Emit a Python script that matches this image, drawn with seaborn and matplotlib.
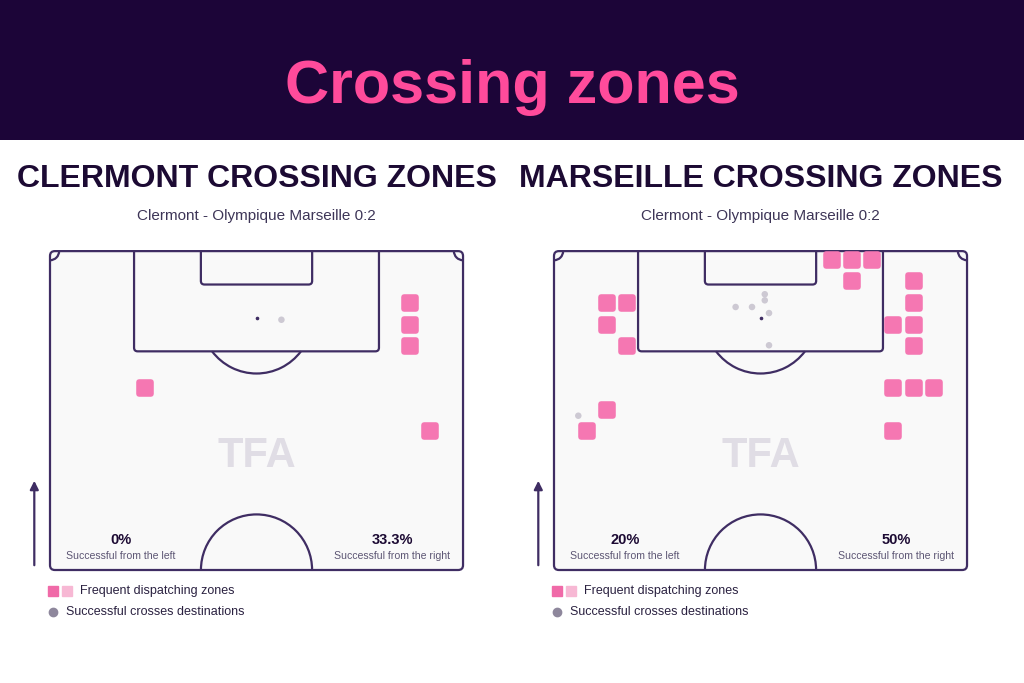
import matplotlib
matplotlib.use("Agg")
import matplotlib.pyplot as plt
import seaborn as sns
import pandas as pd
from matplotlib.patches import FancyBboxPatch, Arc, Rectangle, FancyArrowPatch
from matplotlib.lines import Line2D

# crossing origin zones (pitch metres, x across 0-68, y up from halfway 0-52.5)
clermont_zone_x = [59.2, 59.2, 59.2, 15.6, 62.6]
clermont_zone_y = [44.0, 40.4, 36.9, 29.9, 22.9]
clermont_dest_x = [38.1]
clermont_dest_y = [41.2]

marseille_zone_x = [45.7, 49.0, 52.4, 49.0, 59.2, 59.2, 55.8, 59.2, 59.2,
                    55.8, 59.2, 62.6, 55.8, 8.8, 12.1, 8.8, 12.1, 8.8, 5.4]
marseille_zone_y = [51.1, 51.1, 51.1, 47.5, 47.5, 44.0, 40.4, 40.4, 36.9,
                    29.9, 29.9, 29.9, 22.9, 44.0, 44.0, 40.4, 36.9, 26.3, 22.9]
marseille_dest_x = [34.7, 34.7, 29.9, 32.6, 35.4, 35.4, 4.0]
marseille_dest_y = [45.4, 44.4, 43.3, 43.3, 42.3, 37.0, 25.4]

team_titles = ["CLERMONT CROSSING ZONES", "MARSEILLE CROSSING ZONES"]
match_label = "Clermont - Olympique Marseille 0:2"
left_pct = ["0%", "20%"]
right_pct = ["33.3%", "50%"]

BANNER = "#1c0538"
PINK = "#ff4b9b"
ZONE = "#f577b2"
ZONE_LIGHT = "#f7b8d4"
DOT = "#cdc9d3"
LINE = "#3f2d63"
PITCH_BG = "#f9f9f9"
TEXT = "#1c0a33"

sns.set_theme(style="white")
plt.rcParams["font.family"] = ["Liberation Sans", "DejaVu Sans"]

W, H = 1024, 683
S = 6.074  # pixels per metre


def fx(x):
    return x / W


def fy(y):
    return 1 - y / H


def draw_pitch(ax):
    outline = FancyBboxPatch((0, 0), 68, 52.5, boxstyle="round,pad=0,rounding_size=0.8",
                             fc=PITCH_BG, ec=LINE, lw=1.6, zorder=1)
    ax.add_patch(outline)
    box = FancyBboxPatch((13.84, 36.0), 40.32, 17.5, boxstyle="round,pad=0,rounding_size=0.6",
                         fc="none", ec=LINE, lw=1.6, zorder=2)
    six = FancyBboxPatch((24.84, 47.0), 18.32, 6.5, boxstyle="round,pad=0,rounding_size=0.6",
                         fc="none", ec=LINE, lw=1.6, zorder=2)
    for p in (box, six):
        ax.add_patch(p)
        p.set_clip_path(outline)
    ax.add_patch(Arc((34, 41.5), 18.3, 18.3, theta1=216.9, theta2=323.1, color=LINE, lw=1.6, zorder=2))
    ax.add_patch(Arc((34, 0), 18.3, 18.3, theta1=0, theta2=180, color=LINE, lw=1.6, zorder=2))
    ax.add_patch(Arc((0, 52.5), 3.0, 3.0, theta1=270, theta2=360, color=LINE, lw=1.6, zorder=2))
    ax.add_patch(Arc((68, 52.5), 3.0, 3.0, theta1=180, theta2=270, color=LINE, lw=1.6, zorder=2))
    ax.plot([34], [41.5], marker="o", ms=1.6, color=LINE, zorder=3)
    ax.text(34, 18.8, "TFA", ha="center", va="center", fontsize=30, fontweight="bold",
            color="#e0dde5", zorder=2)


fig = plt.figure(figsize=(W / 100, H / 100), dpi=100)
fig.patches.append(Rectangle((0, fy(140)), 1, 140 / H, transform=fig.transFigure,
                             fc=BANNER, ec="none", zorder=0))
fig.text(0.5, fy(88), "Crossing zones", ha="center", va="center", fontsize=44,
         fontweight="bold", color=PINK)

teams = [
    (50, clermont_zone_x, clermont_zone_y, clermont_dest_x, clermont_dest_y),
    (554, marseille_zone_x, marseille_zone_y, marseille_dest_x, marseille_dest_y),
]

for i, (ox, zx, zy, dx, dy) in enumerate(teams):
    cx = ox + 206.5
    fig.text(fx(cx), fy(179), team_titles[i], ha="center", va="center", fontsize=23,
             fontweight="heavy", color=TEXT)
    fig.text(fx(cx), fy(216), match_label, ha="center", va="center", fontsize=11,
             color="#3d3557")

    ax = fig.add_axes([fx(ox - S), fy(570 + S), 70 * S / W, 54.5 * S / H])
    ax.set_xlim(-1, 69)
    ax.set_ylim(-1, 53.5)
    ax.axis("off")
    draw_pitch(ax)

    zones = pd.DataFrame({"x": zx, "y": zy})
    sns.scatterplot(data=zones, x="x", y="y", marker="s", s=80, color=ZONE,
                    edgecolor=ZONE, linewidth=4.0, ax=ax, zorder=4, legend=False)
    ax.collections[-1].set_joinstyle("round")
    dests = pd.DataFrame({"x": dx, "y": dy})
    sns.scatterplot(data=dests, x="x", y="y", s=22, color=DOT, edgecolor="none",
                    ax=ax, zorder=5, legend=False)
    ax.set_xlabel("")
    ax.set_ylabel("")
    ax.axis("off")

    # success rates
    fig.text(fx(ox + 71), fy(540), left_pct[i], ha="center", va="center", fontsize=10.5,
             fontweight="bold", color=TEXT)
    fig.text(fx(ox + 71), fy(556), "Successful from the left", ha="center", va="center",
             fontsize=7.6, color="#5d5674")
    fig.text(fx(ox + 342), fy(540), right_pct[i], ha="center", va="center", fontsize=10.5,
             fontweight="bold", color=TEXT)
    fig.text(fx(ox + 342), fy(556), "Successful from the right", ha="center", va="center",
             fontsize=7.6, color="#5d5674")

    # attacking direction arrow
    fig.patches.append(FancyArrowPatch((fx(ox - 15.7), fy(568)), (fx(ox - 15.7), fy(478)),
                                       transform=fig.transFigure, arrowstyle="-|>,head_length=5,head_width=2.5",
                                       color=LINE, lw=1.6, mutation_scale=1))

    # legend
    fig.add_artist(Line2D([fx(ox + 3)], [fy(591)], marker="s", ms=6.5, color="#f06aa8",
                          transform=fig.transFigure))
    fig.add_artist(Line2D([fx(ox + 17)], [fy(591)], marker="s", ms=6.5, color=ZONE_LIGHT,
                          transform=fig.transFigure))
    fig.text(fx(ox + 30), fy(591), "Frequent dispatching zones", ha="left", va="center",
             fontsize=9, color="#2a2140")
    fig.add_artist(Line2D([fx(ox + 3)], [fy(612)], marker="o", ms=6, color="#8e879c",
                          transform=fig.transFigure))
    fig.text(fx(ox + 16), fy(612), "Successful crosses destinations", ha="left", va="center",
             fontsize=9, color="#2a2140")

fig.savefig("out.png", dpi=100, facecolor="white")
